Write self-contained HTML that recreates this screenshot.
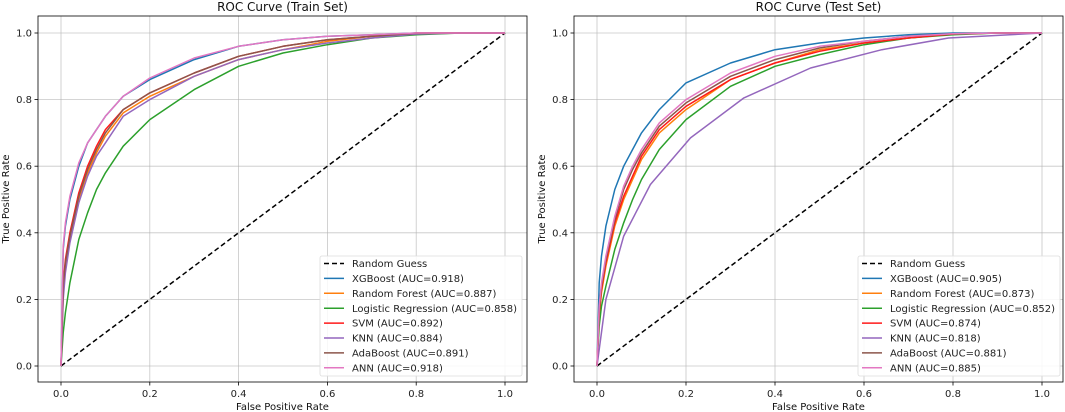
<!DOCTYPE html>
<html><head><meta charset="utf-8"><style>
body{margin:0;background:#fff;}
svg{display:block;font-family:"DejaVu Sans","Liberation Sans",sans-serif;}
</style></head><body>
<svg id="fig" width="1065" height="412"></svg>
<script>
const fprGrid=[0,0.005,0.01,0.02,0.04,0.06,0.08,0.1,0.14,0.2,0.3,0.4,0.5,0.6,0.7,0.8,0.9,1];
const modelNames=["XGBoost","Random Forest","Logistic Regression","SVM","KNN","AdaBoost","ANN"];
const modelColors=["#1f77b4","#ff7f0e","#2ca02c","#ff1a1a","#9467bd","#8c564b","#e377c2"];
const ticks=[0,0.2,0.4,0.6,0.8,1.0];
const tickLabels=["0.0","0.2","0.4","0.6","0.8","1.0"];
const trainAUC=["0.918","0.887","0.858","0.892","0.884","0.891","0.918"];
const testAUC=["0.905","0.873","0.852","0.874","0.818","0.881","0.885"];
const trainXGB=[0,0.35,0.42,0.5,0.6,0.67,0.71,0.75,0.81,0.86,0.92,0.96,0.98,0.99,0.995,1,1,1];
const trainRF=[0,0.22,0.3,0.38,0.5,0.58,0.64,0.69,0.76,0.81,0.87,0.92,0.95,0.975,0.99,0.998,1,1];
const trainLR=[0,0.1,0.16,0.25,0.38,0.46,0.53,0.58,0.66,0.74,0.83,0.9,0.94,0.965,0.985,0.995,1,1];
const trainSVM=[0,0.25,0.32,0.4,0.52,0.6,0.66,0.71,0.77,0.82,0.88,0.93,0.96,0.98,0.99,1,1,1];
const trainKNN=[0,0.2,0.28,0.37,0.49,0.57,0.63,0.67,0.75,0.8,0.87,0.92,0.95,0.97,0.985,0.997,1,1];
const trainADA=[0,0.24,0.31,0.39,0.51,0.59,0.65,0.7,0.77,0.82,0.88,0.93,0.96,0.98,0.99,0.999,1,1];
const trainANN=[0,0.36,0.43,0.51,0.61,0.67,0.71,0.75,0.81,0.865,0.925,0.96,0.98,0.99,0.995,1,1,1];
const testXGB=[0,0.25,0.33,0.42,0.53,0.6,0.65,0.7,0.77,0.85,0.91,0.95,0.97,0.985,0.995,1,1,1];
const testRF=[0,0.15,0.22,0.3,0.42,0.5,0.56,0.62,0.7,0.77,0.86,0.91,0.95,0.97,0.985,0.997,1,1];
const testLR=[0,0.12,0.18,0.24,0.35,0.43,0.5,0.56,0.65,0.74,0.84,0.9,0.935,0.965,0.985,0.995,1,1];
const testSVM=[0,0.16,0.23,0.31,0.43,0.51,0.57,0.63,0.71,0.78,0.86,0.91,0.945,0.97,0.985,0.997,1,1];
const testKNNx=[0,0.02,0.06,0.12,0.21,0.33,0.48,0.64,0.79,1];
const testKNN=[0,0.2,0.39,0.545,0.685,0.805,0.895,0.95,0.985,1];
const testADA=[0,0.17,0.24,0.32,0.44,0.53,0.59,0.64,0.72,0.79,0.87,0.92,0.955,0.975,0.99,0.998,1,1];
const testANN=[0,0.18,0.25,0.33,0.45,0.54,0.6,0.65,0.73,0.8,0.88,0.93,0.96,0.975,0.99,0.998,1,1];

const NS="http://www.w3.org/2000/svg";
const svg=document.getElementById('fig');
function el(tag,attrs,parent){const e=document.createElementNS(NS,tag);for(const k in attrs)e.setAttribute(k,attrs[k]);(parent||svg).appendChild(e);return e;}

function panel(cfg){
  const g=el('g',{});
  
  
  const sx=v=>cfg.x0+(cfg.x1-cfg.x0)*v;
  const sy=v=>cfg.y0+(cfg.y1-cfg.y0)*v;
  ticks.forEach((t,i)=>{
    const gx=el('line',{x1:sx(t),x2:sx(t),y1:cfg.top,y2:cfg.bottom,stroke:'#b0b0b0','stroke-width':0.8,opacity:0.7},g);
    
    
    const gy=el('line',{x1:cfg.left,x2:cfg.right,y1:sy(t),y2:sy(t),stroke:'#b0b0b0','stroke-width':0.8,opacity:0.7},g);
    
    
    el('line',{x1:sx(t),x2:sx(t),y1:cfg.bottom,y2:cfg.bottom+3.5,stroke:'#000','stroke-width':0.8},g);
    el('line',{x1:cfg.left-3.5,x2:cfg.left,y1:sy(t),y2:sy(t),stroke:'#000','stroke-width':0.8},g);
    const xl=el('text',{x:sx(t),y:cfg.bottom+15,'font-size':10,'text-anchor':'middle',fill:'#222'},g);
    xl.textContent=tickLabels[i];
    
    
    const yl=el('text',{x:cfg.left-6,y:sy(t)+3.5,'font-size':10,'text-anchor':'end',fill:'#222'},g);
    yl.textContent=tickLabels[i];
    
    
  });
  const d=el('line',{x1:sx(0),y1:sy(0),x2:sx(1),y2:sy(1),stroke:'#000','stroke-width':1.5,'stroke-dasharray':'5,3'},g);
  
  
  cfg.series.forEach((s,i)=>{
    const xs=s.x||fprGrid;
    const pts=xs.map((x,j)=>sx(x).toFixed(1)+','+sy(s.y[j]).toFixed(1)).join(' ');
    const p=el('polyline',{points:pts,fill:'none',stroke:modelColors[i],'stroke-width':1.5,'stroke-linejoin':'round'},g);
    
    
  });
  el('rect',{x:cfg.left,y:cfg.top,width:cfg.right-cfg.left,height:cfg.bottom-cfg.top,fill:'none',stroke:'#000','stroke-width':0.8},g);
  const ti=el('text',{x:(cfg.left+cfg.right)/2,y:11,'font-size':12,'text-anchor':'middle',fill:'#111'},g);
  ti.textContent=cfg.title;
  
  
  const xt=el('text',{x:(cfg.left+cfg.right)/2,y:410,'font-size':10,'text-anchor':'middle',fill:'#111'},g);
  xt.textContent='False Positive Rate';
  
  
  const yt=el('text',{x:0,y:0,'font-size':10,'text-anchor':'middle',fill:'#111',transform:`translate(${cfg.ylabX},${(cfg.top+cfg.bottom)/2}) rotate(-90)`},g);
  yt.textContent='True Positive Rate';
  
  
  const lg=el('g',{},g);
  
  
  el('rect',{x:cfg.lx,y:256,width:cfg.lw,height:120,rx:2,fill:'#fff','fill-opacity':0.85,stroke:'#ddd','stroke-width':0.8},lg);
  const entries=[['Random Guess','#000',true]].concat(modelNames.map((n,i)=>[n+' (AUC='+cfg.auc[i]+')',modelColors[i],false]));
  entries.forEach((e,i)=>{
    const y=263.5+i*14.9;
    const ln=el('line',{x1:cfg.lx+4,x2:cfg.lx+24,y1:y,y2:y,stroke:e[1],'stroke-width':1.5},lg);
    if(e[2])ln.setAttribute('stroke-dasharray','5,3');
    const t=el('text',{x:cfg.lx+32,y:y+3.6,'font-size':10,fill:'#222'},lg);
    t.textContent=e[0];
    
    
  });
}
panel({name:'train-roc-panel',title:'ROC Curve (Train Set)',left:38,right:527,top:16,bottom:382,x0:61,x1:505,y0:366,y1:33,ylabX:9,lx:320,lw:202,auc:trainAUC,
  series:[{y:trainXGB},{y:trainRF},{y:trainLR},{y:trainSVM},{y:trainKNN},{y:trainADA},{y:trainANN}]});
panel({name:'test-roc-panel',title:'ROC Curve (Test Set)',left:574,right:1063,top:16,bottom:382,x0:597,x1:1042,y0:366,y1:33,ylabX:545,lx:858,lw:202,auc:testAUC,
  series:[{y:testXGB},{y:testRF},{y:testLR},{y:testSVM},{x:testKNNx,y:testKNN},{y:testADA},{y:testANN}]});
</script>
</body></html>
